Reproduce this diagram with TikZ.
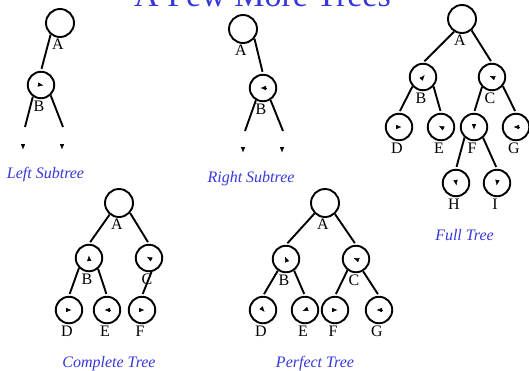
\documentclass[tikz,border=0pt]{standalone}
\usepackage{fontspec}
\setmainfont{Liberation Serif}
\usetikzlibrary{arrows.meta,calc}
\definecolor{slideblue}{RGB}{55,55,220}

\begin{document}
\begin{tikzpicture}[x=1pt,y=-1pt,line width=1.9pt,
  vtx/.style={draw,circle,minimum size=26.5pt,inner sep=0pt},
  root/.style={vtx,minimum size=28pt},
  lbl/.style={font=\fontsize{16}{16}\selectfont,inner sep=1pt,label distance=-0.5pt,xshift=-2pt},
  link/.style={shorten >=2pt},
  ptr/.style={-{Latex[length=5.5pt,width=4.5pt]},line width=0.4pt},
  treename/.style={anchor=base,text=slideblue,font=\fontsize{16}{16}\selectfont\itshape}]
  \useasboundingbox (0,0) rectangle (529,370);
  \node[anchor=base,text=slideblue,font=\fontsize{34}{34}\selectfont] (title) at (262.5,6) {A Few More Trees};

  % left subtree
  \node[root,label={[lbl]below:A}] (lA) at (60,23) {};
  \node[vtx,label={[lbl]below:B}] (lB) at (41,85) {};
  \coordinate (lL) at (25,127);
  \coordinate (lR) at (63,127);
  \draw[link] (lA.231) -- (lB.north);
  \draw (lB.235) -- (lL);
  \draw (lB.313) -- (lR);
  \node[treename] (lname) at (45.5,178) {Left Subtree};

  % right subtree
  \node[root,label={[lbl]below:A}] (rA) at (243,29) {};
  \node[vtx,label={[lbl]below:B}] (rB) at (263,88) {};
  \coordinate (rL) at (245,131);
  \coordinate (rR) at (283,131);
  \draw[link] (rA.320) -- (rB.north);
  \draw (rB.240) -- (rL);
  \draw (rB.302) -- (rR);
  \node[treename] (rname) at (251,182) {Right Subtree};

  % full tree
  \node[root,label={[lbl]below:A}] (fA) at (462,19) {};
  \node[vtx,label={[lbl]below:B}] (fB) at (423,77) {};
  \node[vtx,label={[lbl]below:C}] (fC) at (492,77) {};
  \node[vtx,label={[lbl]below:D}] (fD) at (399,127) {};
  \node[vtx,label={[lbl]below:E}] (fE) at (441,127) {};
  \node[vtx,label={[lbl]below:F}] (fF) at (474,127) {};
  \node[vtx,label={[lbl]below:G}] (fG) at (516,127) {};
  \node[vtx,label={[lbl]below:H}] (fH) at (456,183) {};
  \node[vtx,label={[lbl]below:I}] (fI) at (497,183) {};
  \draw[link] (fA.238) -- (fB.north);
  \draw[link] (fA.310) -- (fC.north);
  \draw[link] (fB.222) -- (fD.north);
  \draw[link] (fB.318) -- (fE.north);
  \draw[link] (fC.225) -- (fF.north);
  \draw[link] (fC.320) -- (fG.north);
  \draw[link] (fF.228) -- (fH.north);
  \draw[link] (fF.310) -- (fI.north);
  \node[treename] (fname) at (464.5,240) {Full Tree};

  % complete tree
  \node[root,label={[lbl]below:A}] (cA) at (119,203) {};
  \node[vtx,label={[lbl]below:B}] (cB) at (89,258) {};
  \node[vtx,label={[lbl]below:C}] (cC) at (149,258) {};
  \node[vtx,label={[lbl]below:D}] (cD) at (69,310) {};
  \node[vtx,label={[lbl]below:E}] (cE) at (107,310) {};
  \node[vtx,label={[lbl]below:F}] (cF) at (142,310) {};
  \draw[link] (cA.231) -- (cB.north);
  \draw[link] (cA.318) -- (cC.north);
  \draw[link] (cB.225) -- (cD.north);
  \draw[link] (cB.310) -- (cE.north);
  \draw[link] (cC.280) -- (cF.north);
  \node[treename] (cname) at (109,367) {Complete Tree};

  % perfect tree
  \node[root,label={[lbl]below:A}] (pA) at (325,203) {};
  \node[vtx,label={[lbl]below:B}] (pB) at (286,259) {};
  \node[vtx,label={[lbl]below:C}] (pC) at (356,259) {};
  \node[vtx,label={[lbl]below:D}] (pD) at (263,310) {};
  \node[vtx,label={[lbl]below:E}] (pE) at (305,310) {};
  \node[vtx,label={[lbl]below:F}] (pF) at (335,310) {};
  \node[vtx,label={[lbl]below:G}] (pG) at (379,310) {};
  \draw[link] (pA.225) -- (pB.north);
  \draw[link] (pA.312) -- (pC.north);
  \draw[link] (pB.235) -- (pD.north);
  \draw[link] (pB.305) -- (pE.north);
  \draw[link] (pC.233) -- (pF.north);
  \draw[link] (pC.300) -- (pG.north);
  \node[treename] (pname) at (315,367) {Perfect Tree};

  % small tips inside the circles and below the open subtrees
  \coordinate (lT1) at (23,147);
  \coordinate (lT2) at (62,147);
  \coordinate (rT1) at (243,150);
  \coordinate (rT2) at (282,150);
  \foreach \n/\a in {lB/-10,rB/180,fB/50,fC/160,fD/0,fE/150,fF/-90,fG/180,fH/-80,fI/-100,
      cB/95,cC/150,cD/0,cE/180,cF/0,pB/110,pC/160,pD/-50,pE/200,pF/0,pG/180,
      lT1/-90,lT2/-90,rT1/-90,rT2/-90}
    \draw[ptr] ($(\n)+(\a+180:2.5pt)$) -- ($(\n)+(\a:2.5pt)$);
\end{tikzpicture}
\end{document}
